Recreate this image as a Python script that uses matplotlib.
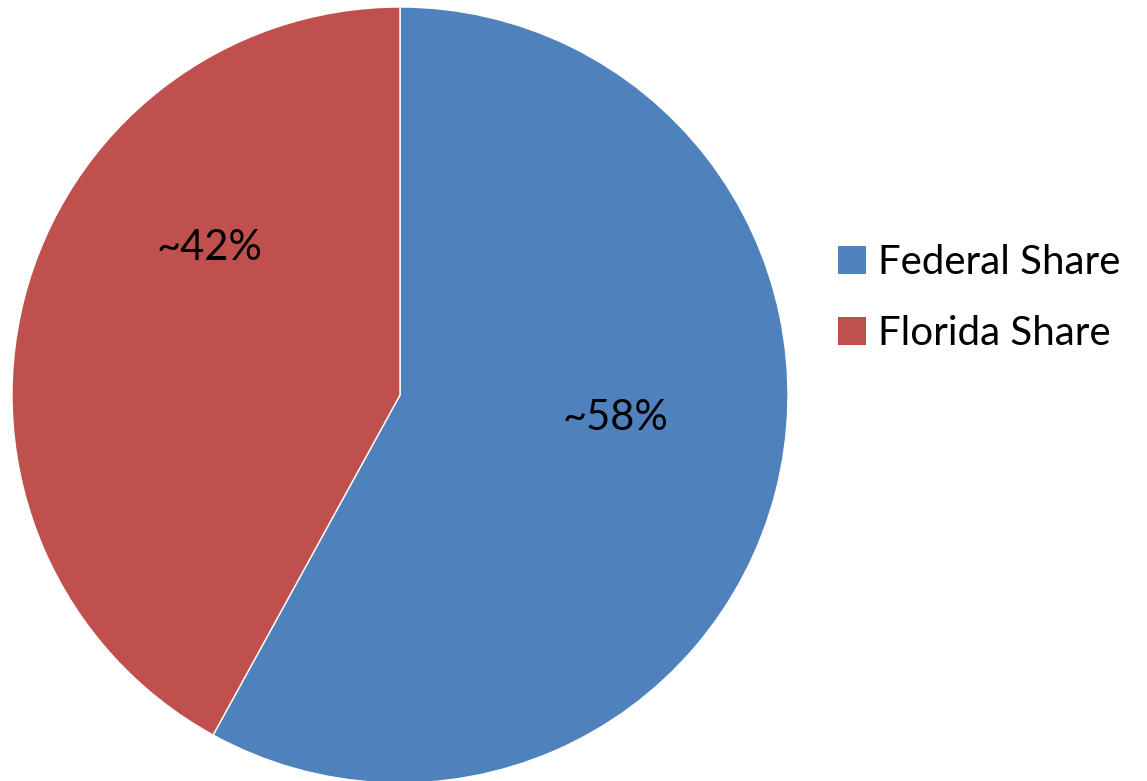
import matplotlib.pyplot as plt

# data
labels = ["Federal Share", "Florida Share"]
shares = [58, 42]
pct_text = ["~58%", "~42%"]
colors = ["#4f81bd", "#c0504d"]

plt.rcParams['font.family'] = ['Lato', 'DejaVu Sans']

fig = plt.figure(figsize=(11.47, 7.81), dpi=100)
ax = fig.add_axes([12 / 1147, -2 / 781, 776 / 1147, 776 / 781])

wedges, _ = ax.pie(shares, colors=colors, startangle=90, counterclock=False,
                   wedgeprops=dict(edgecolor="white", linewidth=1))
ax.set_xlim(-1, 1)
ax.set_ylim(-1, 1)
ax.set_aspect("equal")

# label spots (Excel style placement)
label_pos = [(0.554, -0.059), (-0.49, 0.379)]
for (x, y), t in zip(label_pos, pct_text):
    ax.text(x, y, t, ha="center", va="center", fontsize=30, color="black")

leg = fig.legend(wedges, labels, loc="center left", bbox_to_anchor=(818 / 1147, 1 - 298 / 781),
                 frameon=False, fontsize=29, handlelength=0.68, handleheight=0.68,
                 handletextpad=0.3, labelspacing=0.85, borderpad=0)
for h in leg.legend_handles:
    h.set_edgecolor("none")

fig.savefig("out.png", dpi=100)
